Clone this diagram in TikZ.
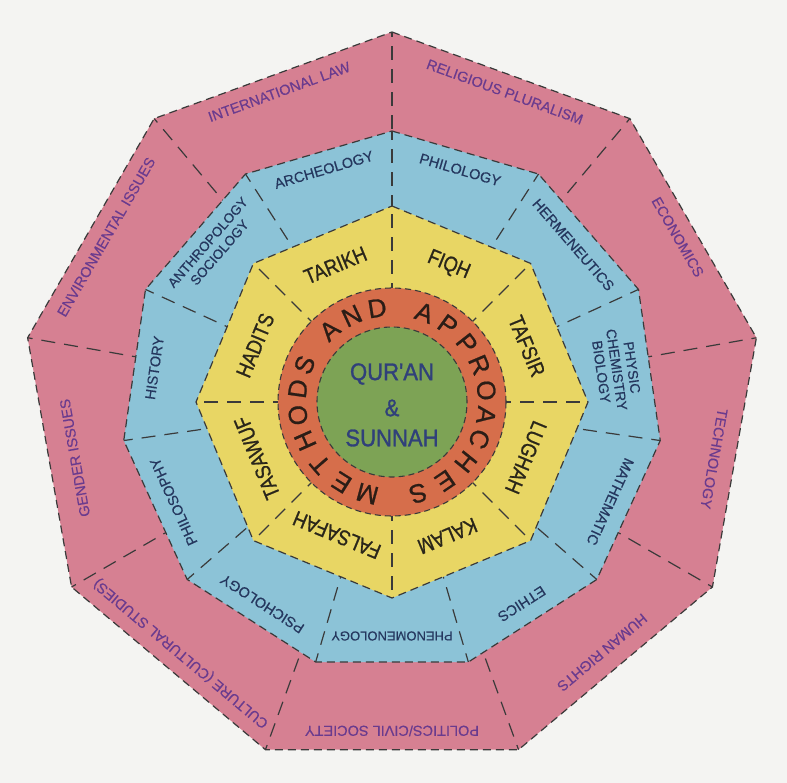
\documentclass[tikz,border=0pt]{standalone}
\usepackage{fontspec}
\setmainfont{Liberation Sans}
\newfontfamily\pinkfont[FakeBold=0.3]{Liberation Sans}
\newfontfamily\bluefont[FakeBold=0.5]{Liberation Sans}
\newfontfamily\yelfont[FakeStretch=0.85,FakeBold=0.9]{Liberation Sans}
\newfontfamily\ringfont[FakeBold=0.8]{Liberation Sans}
\newfontfamily\grnfont[FakeStretch=0.92,FakeBold=1.2]{Liberation Sans}
\definecolor{bgcol}{HTML}{F4F4F2}
\definecolor{pinkfill}{HTML}{D68092}
\definecolor{bluefill}{HTML}{8CC3D7}
\definecolor{yelfill}{HTML}{E8D664}
\definecolor{orgfill}{HTML}{D66E4B}
\definecolor{grnfill}{HTML}{7DA355}
\definecolor{linecol}{HTML}{3A3A3A}
\definecolor{pinktext}{HTML}{6A3B8E}
\definecolor{bluetext}{HTML}{25375E}
\definecolor{yeltext}{HTML}{2A261A}
\definecolor{ringtext}{HTML}{2B1D16}
\definecolor{grntext}{HTML}{30407A}
\tikzset{
  bound/.style={draw=linecol, line width=1.2pt, dash pattern=on 8pt off 5pt},
  fineb/.style={draw=linecol, line width=1.1pt, dash pattern=on 6pt off 4pt},
  divider/.style={draw=linecol, line width=1.2pt, dash pattern=on 14pt off 9pt},
  pinklbl/.style={text=pinktext, font=\pinkfont\fontsize{14.5}{16}\selectfont, inner sep=0pt, align=center},
  bluelbl/.style={text=bluetext, font=\bluefont\fontsize{14.5}{16}\selectfont, inner sep=0pt, align=center},
  yellbl/.style={text=yeltext, font=\yelfont\fontsize{21.5}{24}\selectfont, inner sep=0pt},
  ringlbl/.style={text=ringtext, font=\ringfont\fontsize{26}{28}\selectfont, inner sep=0pt},
  grnlbl/.style={text=grntext, font=\grnfont\fontsize{24}{26}\selectfont, inner sep=0pt}
}
\begin{document}
\begin{tikzpicture}[x=1pt,y=1pt]
\fill[bgcol] (0,-783) rectangle (787,0);
\useasboundingbox (0,-783) rectangle (787,0);
\begin{scope}[shift={(392,-402)}]
  % outer pink band (9-gon)
  \path[fill=pinkfill, bound] (90:370) \foreach \i in {1,...,8}{ -- (90-\i*40:370)} -- cycle;
  \foreach \i in {0,...,8} \draw[divider] (90-\i*40:250) -- (90-\i*40:370);
  % blue band (11-gon)
  \path[fill=bluefill, bound] (90:271) \foreach \i in {1,...,10}{ -- (90-\i*32.72727:271)} -- cycle;
  \foreach \i in {0,...,10} \draw[divider] (90-\i*32.72727:170) -- (90-\i*32.72727:271);
  % yellow band (octagon)
  \path[fill=yelfill, bound] (90:196) \foreach \i in {1,...,7}{ -- (90-\i*45:196)} -- cycle;
  \foreach \i in {0,...,7} \draw[divider] (90-\i*45:105) -- (90-\i*45:196);
  % orange ring and green core
  \path[fill=orgfill, fineb] (0,0) circle (114);
  \path[fill=grnfill, fineb] (0,0) circle (75);

  % pink labels
  \node[pinklbl, rotate=20]   (l1) at (110:330) {INTERNATIONAL LAW};
  \node[pinklbl, rotate=-20]  (l2) at (70:330) {RELIGIOUS PLURALISM};
  \node[pinklbl, rotate=-60]  (l3) at (30:330) {ECONOMICS};
  \node[pinklbl, rotate=-100] (l4) at (-10:327) {TECHNOLOGY};
  \node[pinklbl, rotate=-140] (l5) at (-50:327) {HUMAN RIGHTS};
  \node[pinklbl, rotate=180]  (l6) at (-90:329) {POLITICS/CIVIL SOCIETY};
  \node[pinklbl, rotate=140]  (l7) at (-130:328) {CULTURE (CULTURAL STUDIES)};
  \node[pinklbl, rotate=100]  (l8) at (-170:322) {GENDER ISSUES};
  \node[pinklbl, rotate=60]   (l9) at (150:330) {ENVIRONMENTAL ISSUES};

  % blue labels
  \node[bluelbl, rotate=16.36]   (b1) at (106.36:242) {ARCHEOLOGY};
  \node[bluelbl, rotate=-16.36]  (b2) at (73.64:242) {PHILOLOGY};
  \node[bluelbl, rotate=-49.09]  (b3) at (40.91:240) {HERMENEUTICS};
  \node[bluelbl, rotate=-81.82, font=\bluefont\fontsize{14}{15.5}\selectfont] (b4) at (8.18:227) {PHYSIC\\CHEMISTRY\\BIOLOGY};
  \node[bluelbl, rotate=-114.55] (b5) at (-24.55:240) {MATHEMATIC};
  \node[bluelbl, rotate=-147.27] (b6) at (-57.27:240) {ETHICS};
  \node[bluelbl, rotate=180, font=\bluefont\fontsize{13}{15}\selectfont] (b7) at (-90:234) {PHENOMENOLOGY};
  \node[bluelbl, rotate=147.27]  (b8) at (-122.73:240) {PSICHOLOGY};
  \node[bluelbl, rotate=114.55]  (b9) at (-155.45:240) {PHILOSOPHY};
  \node[bluelbl, rotate=81.82]   (b10) at (171.82:240) {HISTORY};
  \node[bluelbl, rotate=49.09, font=\bluefont\fontsize{13.5}{15.5}\selectfont] (b11) at (139.09:236) {ANTHROPOLOGY\\SOCIOLOGY};

  % yellow labels
  \node[yellbl, rotate=22.5]   (y1) at (112.5:148) {TARIKH};
  \node[yellbl, rotate=-22.5]  (y2) at (67.5:148) {FIQH};
  \node[yellbl, rotate=-67.5]  (y3) at (22.5:146) {TAFSIR};
  \node[yellbl, rotate=-112.5] (y4) at (-22.5:145) {LUGHAH};
  \node[yellbl, rotate=-157.5] (y5) at (-67.5:145) {KALAM};
  \node[yellbl, rotate=157.5]  (y6) at (-112.5:144) {FALSAFAH};
  \node[yellbl, rotate=112.5]  (y7) at (-157.5:146) {TASAWUF};
  \node[yellbl, rotate=67.5]   (y8) at (157.5:148) {HADITS};

  % ring text
  \foreach \ch/\a [count=\k] in {M/255, E/238, T/221, H/204, O/188, D/172, S/157,
      A/131, N/115, D/99,
      A/70, P/54, P/38, R/23, O/7, A/-8, C/-23, H/-39, E/-56, S/-74}
    \node[ringlbl, rotate=\a-90] (r\k) at (\a:95) {\ch};

  % core text
  \node[grnlbl] (g1) at (0,28) {QUR'AN};
  \node[grnlbl] (g2) at (0,-6) {\&};
  \node[grnlbl] (g3) at (0,-36) {SUNNAH};
\end{scope}
\end{tikzpicture}
\end{document}
